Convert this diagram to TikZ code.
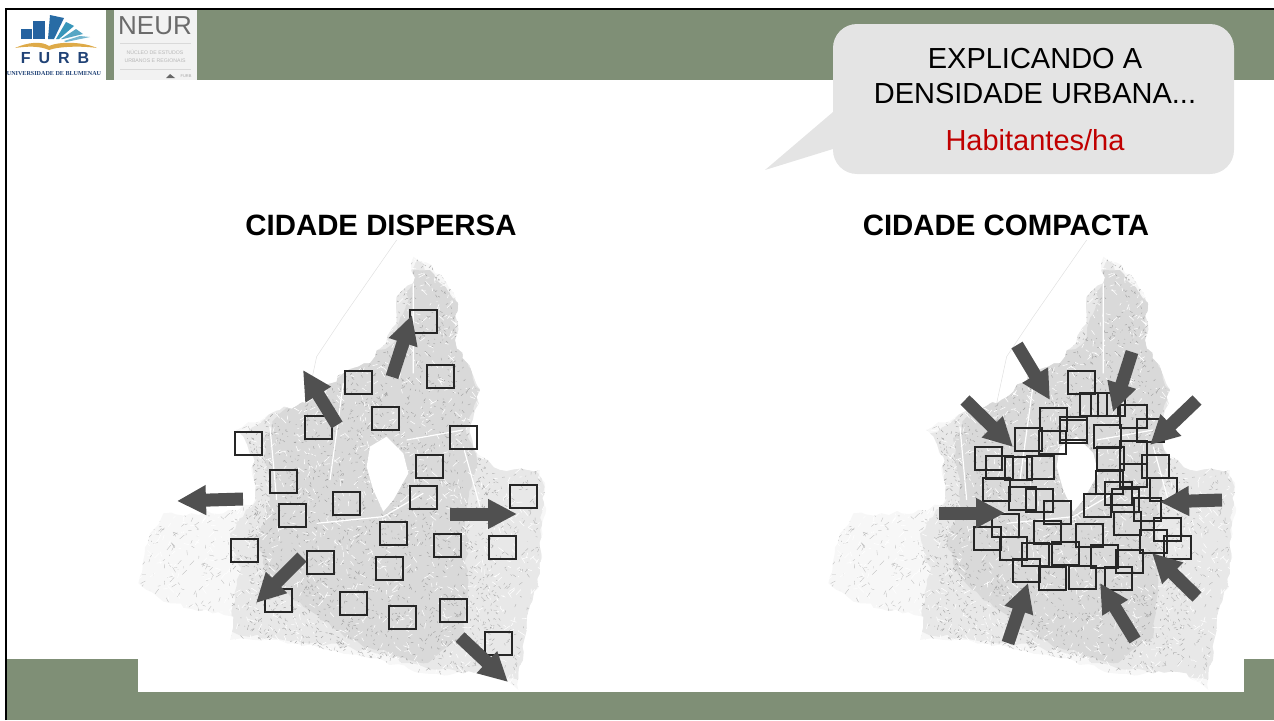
\documentclass[tikz,border=0pt]{standalone}
\usepackage{fontspec}
\setmainfont{Liberation Sans}
\newfontfamily\logoserif{Liberation Serif}
\usetikzlibrary{arrows.meta, decorations.pathmorphing}

\definecolor{banner}{RGB}{127,143,118}
\definecolor{bubble}{RGB}{228,228,228}
\definecolor{flowgray}{RGB}{80,80,80}
\definecolor{furbblue}{RGB}{36,98,160}
\definecolor{furbteal}{RGB}{56,150,186}
\definecolor{furbgold}{RGB}{222,170,72}
\definecolor{furbnavy}{RGB}{32,66,118}

\tikzset{
  lot/.style={draw=black!85, line width=2pt, minimum width=27pt, minimum height=23pt, inner sep=0pt},
  flow/.style={draw=flowgray, line width=13pt, -{Triangle[length=29pt,width=28pt]}},
  heading/.style={font=\fontsize{29.4}{29.4}\selectfont\bfseries, inner sep=0pt},
  bubbletext/.style={font=\fontsize{29}{29}\selectfont, inner sep=0pt},
  tinytext/.style={font=\fontsize{5.2}{5.2}\selectfont, text=black!28, inner sep=0pt},
  rough/.style={decorate, decoration={random steps, segment length=7pt, amplitude=2.5pt}}
}

% outline of the city, same for both maps
\newcommand{\cityoutline}{(850,50) -- (905,75) -- (985,190) -- (975,300) -- (1050,450) -- (1020,560) -- (1040,640) -- (1110,690) -- (1230,690) -- (1245,760) -- (1230,1000) -- (1190,1150) -- (1165,1350) -- (1100,1300) -- (1000,1300) -- (880,1300) -- (700,1250) -- (500,1210) -- (300,1200) -- (310,1130) -- (100,1085) -- (25,1030) -- (60,880) -- (100,820) -- (280,820) -- (370,790) -- (370,650) -- (320,570) -- (450,510) -- (530,490) -- (640,400) -- (720,370) -- (800,250) -- (800,170) -- (850,130) -- cycle}
\newcommand{\citymid}{(300,1180) -- (330,1000) -- (300,880) -- (380,780) -- (360,640) -- (330,580) -- (640,400) -- (860,60) -- (985,190) -- (1050,450) -- (1040,650) -- (1240,700) -- (1235,1000) -- (1170,1320) -- (880,1280) -- (700,1230) -- (500,1200) -- cycle}
\newcommand{\citycore}{(850,90) -- (900,90) -- (985,190) -- (975,300) -- (1050,450) -- (1010,560) -- (1040,650) -- (1010,800) -- (1010,1000) -- (1000,1190) -- (880,1270) -- (700,1220) -- (520,1100) -- (420,1010) -- (380,900) -- (420,780) -- (400,600) -- (450,520) -- (640,400) -- (800,300) -- cycle}

\newcommand{\citymap}[1]{
\begin{scope}[shift={(#1,240)}, x=0.3333pt, y=-0.3333pt]
  \pgfmathsetseed{42}
  % faint coast to the north west
  \draw[black!12, line width=0.5pt] (800,0) -- (640,230) -- (560,350) -- (530,490);
  \begin{scope}
    \clip[rough] \cityoutline;
    \fill[black!3] (0,0) rectangle (1270,1380);
    \draw[black!26, line width=0.35pt] \foreach \i in {1,...,2400} { ({rnd*1250},{rnd*1350}) -- ++({rnd*30-15},{rnd*30-15}) };
    \fill[black!9, rough] \citymid;
    \draw[black!30, line width=0.4pt] \foreach \i in {1,...,1800} { ({300+rnd*950},{60+rnd*1300}) -- ++({rnd*20-10},{rnd*20-10}) };
    \fill[black!15, rough] \citycore;
    \draw[black!36, line width=0.45pt] \foreach \i in {1,...,2500} { ({350+rnd*750},{60+rnd*1200}) -- ++({rnd*16-8},{rnd*16-8}) };
    \draw[white, line width=0.55pt] \foreach \i in {1,...,2000} { ({rnd*1250},{rnd*1350}) -- ++({rnd*36-18},{rnd*36-18}) };
    % main roads
    \draw[white, line width=1.2pt] (830,600) -- (1000,570) (1000,620) -- (1050,800) (880,760) -- (760,830) -- (560,850);
    \draw[white, line width=1.2pt] (420,560) -- (440,780) (850,130) -- (850,400) (640,430) -- (600,720);
    % lake
    \fill[white] (720,620) -- (770,590) -- (820,640) -- (835,700) -- (790,780) -- (760,815) -- (730,750) -- (710,680) -- cycle;
  \end{scope}
\end{scope}
}

\begin{document}
\begin{tikzpicture}[x=1pt, y=-1pt]
\useasboundingbox (0,0) rectangle (1274,720);

% frame bands
\fill[banner] (6,9) rectangle (1274,80);
\fill[banner] (6,692) rectangle (1274,720);
\fill[banner] (6,659) rectangle (138,692);
\fill[banner] (1244,659) rectangle (1274,692);
\fill[white] (7,10) rectangle (106,80);
\fill[black!5] (114,10) rectangle (197,80);

% FURB logo
\fill[furbblue] (21,29) rectangle (32,39);
\fill[furbblue] (33,21) rectangle (45,39);
\fill[furbblue!80!furbteal] (48,39) -- (50,15) -- (64,18) -- (54,39) -- cycle;
\fill[furbteal] (56,39) -- (66,22) -- (74,26) -- (59,39) -- cycle;
\fill[furbteal!85!white] (61,39) -- (76,29) -- (83,34) -- (63,39) -- cycle;
\fill[furbteal!70!white] (64,41) -- (80,36) -- (90,37) -- (66,42) -- cycle;
\fill[furbgold] (15,48) .. controls (28,42) and (42,41) .. (49,46) -- (49,50) .. controls (40,46) and (28,46) .. (15,48) -- cycle;
\fill[furbgold] (97,48) .. controls (84,42) and (60,41) .. (49,46) -- (49,50) .. controls (60,46) and (84,46) .. (97,48) -- cycle;
\path (55,58.5) node[font=\fontsize{16}{16}\selectfont\bfseries\addfontfeature{LetterSpace=50}, text=furbnavy, inner sep=0pt] (furb) {FURB}
      (54,74) node[font=\logoserif\fontsize{6.1}{6.1}\selectfont\bfseries, text=furbnavy, inner sep=0pt] (furbname) {UNIVERSIDADE DE BLUMENAU};

% NEUR logo
\path (155,26) node[font=\fontsize{26}{26}\selectfont, text=black!58, inner sep=0pt] (neur) {NEUR}
      (155,52) node[tinytext] (neurline1) {NÚCLEO DE ESTUDOS}
      (155,61) node[tinytext] (neurline2) {URBANOS E REGIONAIS}
      (186,76) node[font=\fontsize{4}{4}\selectfont, text=black!35, inner sep=0pt] (neurfurb) {FURB};
\draw[black!15, line width=0.7pt] (120,43) -- (191,43);
\draw[black!15, line width=0.7pt] (120,69) -- (191,69);
\fill[black!60] (166,78) -- (170,74) -- (175,78) -- cycle;

% callout
\fill[bubble] (833,112) -- (765,170) -- (833,149) -- cycle;
\fill[bubble, rounded corners=24pt] (833,24) rectangle (1234,174);
\path (1035,59) node[bubbletext] (explain1) {EXPLICANDO A}
      (1035,93.5) node[bubbletext] (explain2) {DENSIDADE URBANA...}
      (1035,140) node[bubbletext, text={rgb,255:red,192;green,0;blue,0}] (unit) {Habitantes/ha};

% titles
\path (381,225) node[heading] (titleleft) {CIDADE DISPERSA}
      (1006,225) node[heading] (titleright) {CIDADE COMPACTA};

% maps
\citymap{130}
\citymap{820}

% scattered lots
\foreach \x/\y [count=\i] in {423/321, 440/376, 358/382, 385/418, 318/427, 248/443, 463/437, 429/466,
    283/481, 423/497, 523/496, 346/503, 292/515, 393/533, 447/545, 502/547, 244/550, 320/562,
    389/568, 353/603, 278/600, 402/617, 453/610, 498/643}
  \node[lot] (d\i) at (\x,\y) {};

% compact lots
\foreach \x/\y [count=\i] in {1081/382, 1093/404, 1111/404, 1104/404, 1053/419, 1133/416, 1073/428, 1073/431,
    1150/430, 1107/436, 1028/439, 1052/442, 1133/452, 988/458, 999/467, 1018/468, 1040/467,
    1110/458, 1155/466, 1133/475, 1109/482, 996/489, 1022/498, 1039/500, 1118/493, 1163/489,
    1057/512, 1097/505, 1125/500, 1147/509, 1005/525, 1127/523, 1167/529, 987/538, 1047/532,
    1089/535, 1153/541, 1177/547, 1013/548, 1035/554, 1065/553, 1104/556, 1129/561, 1026/570,
    1052/578, 1082/577, 1118/578}
  \node[lot] (c\i) at (\x,\y) {};

% outward arrows
\foreach \xa/\ya/\xb/\yb [count=\i] in {392/377/412/315, 337/425/303/370, 243/499/177/501,
    450/514/517/514, 302/557/256/603, 460/637/508/682} {
  \coordinate (ds\i) at (\xa,\ya);
  \coordinate (de\i) at (\xb,\yb);
  \draw[flow] (ds\i) -- (de\i);
}

% inward arrows
\foreach \xa/\ya/\xb/\yb [count=\i] in {1017/345/1050/400, 1132/352/1113/412, 1197/400/1150/445,
    965/400/1013/447, 1222/500/1160/502, 939/513/1005/513, 1197/597/1152/553,
    1135/640/1100/583, 1008/643/1028/583} {
  \coordinate (cs\i) at (\xa,\ya);
  \coordinate (ce\i) at (\xb,\yb);
  \draw[flow] (cs\i) -- (ce\i);
}

% black edge
\draw[black, line width=2pt] (6,720) -- (6,9) -- (1274,9);

\end{tikzpicture}
\end{document}
